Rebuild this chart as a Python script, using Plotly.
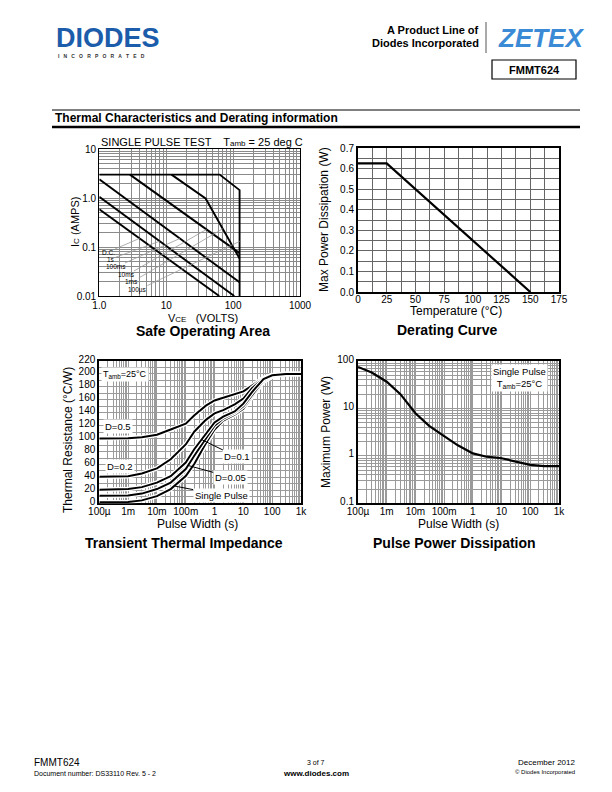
import numpy as np
import plotly.graph_objects as go

FONT = "Liberation Sans, Arial, Helvetica, sans-serif"
W, H = 612, 792

# ---------------- data ----------------
# Safe Operating Area (VCE in volts, IC in amps)
soa_names = ["D.C.", "1s", "100ms", "10ms", "1ms", "100\u00b5s"]
soa_v = [
    [1, 62],
    [1, 104],
    [1, 125],
    [2.87, 125],
    [12, 38.8, 125],
    [1, 63, 125, 125],
]
soa_i = [
    [0.59, 0.01],
    [1.06, 0.01],
    [2.4, 0.019],
    [3.0, 0.075],
    [3.0, 0.98, 0.058],
    [3.0, 3.0, 1.45, 0.01],
]
# leader-line targets on each curve (volts)
soa_leader_v = [4, 8, 16, 40, 70, 125]
soa_leader_i100us = 0.13

# Derating curve
der_temp = [0, 25, 150]
der_pw = [0.625, 0.625, 0.0]

# Transient thermal impedance
tt_t = [1e-4, 1e-3, 3e-3, 1e-2, 3e-2, 0.1, 0.2, 0.5, 1, 2, 5, 10, 20, 50, 100, 300, 1000]
tt_d05 = [100, 100.5, 102, 106, 114, 123, 136, 151, 159, 163, 168, 173, 182, 194, 198, 200, 200]
tt_d02 = [41, 42, 46, 54, 68, 91, 111, 129, 139, 144, 153, 162, 178, 193, 198, 200, 200]
tt_d01 = [21, 22, 25, 32, 42, 63, 84, 108, 125, 134, 142, 154, 172, 192, 198, 200, 200]
tt_d005 = [11.5, 12, 15, 22, 32, 53, 74, 100, 120, 131, 140, 150, 168, 190, 197, 200, 200]
tt_single = [1.5, 2, 4.5, 11, 22, 42, 61, 93, 114, 128, 137, 146, 165, 188, 196, 200, 200]

# Pulse power dissipation
pp_t = [1e-4, 3e-4, 1e-3, 3e-3, 1e-2, 3e-2, 0.1, 0.3, 1, 3, 10, 30, 100, 300, 1000]
pp_w = [75, 57, 36.6, 20, 7.9, 4.3, 2.6, 1.67, 1.13, 0.96, 0.89, 0.76, 0.645, 0.61, 0.61]

log_ticks_t = [1e-4, 1e-3, 1e-2, 1e-1, 1, 10, 100, 1000]
log_text_t = ["100\u00b5", "1m", "10m", "100m", "1", "10", "100", "1k"]


def px(x):
    return x / W


def py(y):
    return 1 - y / H


fig = go.Figure()


def add_curve(x, y, xa, ya, width=2.0, halo=True):
    if halo:
        fig.add_trace(go.Scatter(x=x, y=y, xaxis=xa, yaxis=ya, mode="lines",
                                 line=dict(color="white", width=width + 2.5),
                                 hoverinfo="skip"))
    fig.add_trace(go.Scatter(x=x, y=y, xaxis=xa, yaxis=ya, mode="lines",
                             line=dict(color="black", width=width),
                             hoverinfo="skip"))


# SOA curves
for v, i in zip(soa_v, soa_i):
    add_curve(v, i, "x", "y", width=1.9, halo=False)
# Derating
add_curve(der_temp, der_pw, "x2", "y2", width=2.2, halo=False)
# Transient
for ser in [tt_d05, tt_d02, tt_single, tt_d005, tt_d01]:
    add_curve(tt_t, ser, "x3", "y3", width=2.0, halo=True)
# Pulse power
add_curve(pp_t, pp_w, "x4", "y4", width=2.2, halo=False)


def ax_common(gridcolor, lw=1.5, standoff=0, shift=0):
    return dict(showline=True, linecolor="black", linewidth=lw, mirror=True,
                ticks="", zeroline=False, showgrid=True, gridcolor=gridcolor,
                gridwidth=1, layer="below traces", automargin=False,
                ticklabelstandoff=standoff, ticklabelshift=shift,
                tickfont=dict(family=FONT, size=10, color="black"))


soa_dom_x = [px(99.3), px(300)]
soa_dom_y = [py(296), py(149)]
der_dom_x = [px(358), px(559)]
der_dom_y = [py(292), py(148)]
tt_dom_x = [px(99.3), px(301)]
tt_dom_y = [py(503.3), py(361)]
pp_dom_x = [px(358), px(559)]
pp_dom_y = [py(503.3), py(361)]

fig.update_layout(
    template="none",
    width=W, height=H, autosize=False,
    margin=dict(l=0, r=0, t=0, b=0, pad=0, autoexpand=False),
    paper_bgcolor="white", plot_bgcolor="white",
    showlegend=False,
    font=dict(family=FONT, color="black"),
    xaxis=dict(**ax_common("#8a8a8a", 1.3, 0), type="log", range=[0, 3], domain=soa_dom_x,
               anchor="y", tickmode="array", tickvals=[1, 10, 100, 1000],
               ticktext=["1.0", "10", "100", "1000"],
               minor=dict(dtick="D1", showgrid=True, gridcolor="#8a8a8a", gridwidth=1)),
    yaxis=dict(**ax_common("#8a8a8a", 1.3, 0), type="log", range=[-2, 1], domain=soa_dom_y,
               anchor="x", tickmode="array", tickvals=[0.01, 0.1, 1, 10],
               ticktext=["0.01", "0.1", "1.0", "10"],
               minor=dict(dtick="D1", showgrid=True, gridcolor="#8a8a8a", gridwidth=1)),
    xaxis2=dict(**ax_common("#666666", 2, -3), range=[0, 175], domain=der_dom_x, anchor="y2",
                tickmode="array", tickvals=[0, 25, 50, 75, 100, 125, 150, 175],
                minor=dict(dtick=12.5, showgrid=True, gridcolor="#666666", gridwidth=1)),
    yaxis2=dict(**ax_common("#666666", 2, 0), range=[0, 0.7], domain=der_dom_y, anchor="x2",
                tickmode="linear", tick0=0, dtick=0.1, tickformat=".1f",
                minor=dict(dtick=0.05, showgrid=True, gridcolor="#666666", gridwidth=1)),
    xaxis3=dict(**ax_common("#9a9a9a", 2, -2), type="log", range=[-4, 3], domain=tt_dom_x,
                anchor="y3", tickmode="array", tickvals=log_ticks_t, ticktext=log_text_t,
                minor=dict(dtick="D1", showgrid=True, gridcolor="#9a9a9a", gridwidth=1)),
    yaxis3=dict(**ax_common("#9a9a9a", 2, 0, -2), range=[0, 220], domain=tt_dom_y, anchor="x3",
                tickmode="linear", tick0=0, dtick=20,
                minor=dict(dtick=10, showgrid=True, gridcolor="#9a9a9a", gridwidth=1)),
    xaxis4=dict(**ax_common("#9a9a9a", 2, -2), type="log", range=[-4, 3], domain=pp_dom_x,
                anchor="y4", tickmode="array", tickvals=log_ticks_t, ticktext=log_text_t,
                minor=dict(dtick="D1", showgrid=True, gridcolor="#9a9a9a", gridwidth=1)),
    yaxis4=dict(**ax_common("#9a9a9a", 2, 0, -2), type="log", range=[-1, 2], domain=pp_dom_y,
                anchor="x4", tickmode="array", tickvals=[0.1, 1, 10, 100],
                ticktext=["0.1", "1", "10", "100"],
                minor=dict(dtick="D1", showgrid=True, gridcolor="#9a9a9a", gridwidth=1)),
)

ann = []


def txt(x, y, text, size=10, bold=False, xanchor="center", yanchor="middle",
        color="black", angle=0, bg=None, italic=False, family=FONT):
    t = text
    if bold:
        t = "<b>" + t + "</b>"
    if italic:
        t = "<i>" + t + "</i>"
    d = dict(x=px(x), y=py(y), xref="paper", yref="paper", text=t, showarrow=False,
             xanchor=xanchor, yanchor=yanchor, textangle=angle,
             font=dict(family=family, size=size, color=color))
    if bg:
        d["bgcolor"] = bg
    ann.append(d)


# ---- header ----
txt(54, 38, "DIODES", size=27, bold=True, xanchor="left", color="#1b5cab")
nb = "\u00a0\u00a0\u00a0"
txt(56, 56, nb.join("INCORPORATED"), size=5, bold=True, xanchor="left", color="#333333")
txt(481, 30, "A Product Line of", size=11, bold=True, xanchor="right")
txt(481, 43, "Diodes Incorporated", size=11, bold=True, xanchor="right")
txt(541, 38, "ZETEX", size=26, bold=True, italic=True, color="#3b8ad6",
    xanchor="center")
txt(534, 70, "FMMT624", size=11, bold=True)
txt(53, 118, "Thermal Characteristics and Derating information", size=12, bold=True,
    xanchor="left")

# ---- SOA texts ----
txt(99, 142, "SINGLE PULSE TEST    T<span style='font-size:8px'>amb</span> = 25 deg C",
    size=11, xanchor="left")
txt(203, 318, "V<span style='font-size:8px'>CE</span>   (VOLTS)", size=11)
txt(75, 222, "I<span style='font-size:8px'>C</span> (AMPS)", size=11, angle=-90)
txt(203, 331, "Safe Operating Area", size=14, bold=True)

# ---- Derating texts ----
txt(456, 311, "Temperature (\u00b0C)", size=12)
txt(324, 220, "Max Power Dissipation (W)", size=12, angle=-90)
txt(447, 330, "Derating Curve", size=14, bold=True)

# ---- Transient texts ----
txt(197, 524, "Pulse Width (s)", size=12)
txt(68, 440, "Thermal Resistance (\u00b0C/W)", size=12, angle=-90)
txt(184, 543, "Transient Thermal Impedance", size=14, bold=True)

# ---- Pulse power texts ----
txt(458, 524, "Pulse Width (s)", size=12)
txt(326, 432, "Maximum Power (W)", size=12, angle=-90)
txt(454, 543, "Pulse Power Dissipation", size=14, bold=True)

# ---- footer ----
txt(32, 762, "FMMT624", size=10, xanchor="left")
txt(32, 773, "Document number: DS33110 Rev. 5 - 2", size=7, xanchor="left")
txt(316, 762, "3 of 7", size=7)
txt(316, 773, "www.diodes.com", size=8, bold=True)
txt(577, 762, "December 2012", size=8, xanchor="right")
txt(577, 772, "\u00a9 Diodes Incorporated", size=6, xanchor="right")

# ---- in-chart labels, transient ----
ann.append(dict(x=-3.1, y=199, xref="x3", yref="y3", showarrow=False,
                text="T<sub>amb</sub>=25\u00b0C", bgcolor="white",
                font=dict(family=FONT, size=9, color="black")))
ann.append(dict(x=-3.35, y=118, xref="x3", yref="y3", showarrow=False,
                text="D=0.5", bgcolor="white", font=dict(family=FONT, size=9.5)))
ann.append(dict(x=-3.28, y=57.6, xref="x3", yref="y3", showarrow=False,
                text="D=0.2", bgcolor="white", font=dict(family=FONT, size=9.5)))


def logint(xq, xs, ys, logy=False):
    yy = np.log10(ys) if logy else np.asarray(ys, float)
    r = np.interp(np.log10(xq), np.log10(xs), yy)
    return r


tt_leaders = [("D=0.1", tt_d01, 0.35, 0.786, 71.6),
              ("D=0.05", tt_d005, 0.12, 0.543, 40.6),
              ("Single Pulse", tt_single, 0.04, 0.23, 12.8)]
for lab, ser, tq, lx, ly in tt_leaders:
    ann.append(dict(x=np.log10(tq), y=float(logint(tq, tt_t, ser)), xref="x3", yref="y3",
                    ax=lx, ay=ly, axref="x3", ayref="y3", showarrow=True,
                    arrowhead=0, arrowwidth=1, arrowcolor="black", text=lab,
                    bgcolor="white", font=dict(family=FONT, size=9.5)))

# ---- pulse power label ----
ann.append(dict(x=1.62, y=1.64, xref="x4", yref="y4", showarrow=False,
                text="Single Pulse<br>T<sub>amb</sub>=25\u00b0C", bgcolor="white",
                font=dict(family=FONT, size=9.5)))

# ---- SOA labels with leaders ----
soa_lab_pos = [(0.130, -1.102), (0.175, -1.245), (0.249, -1.408),
               (0.413, -1.571), (0.488, -1.714), (0.578, -1.878)]
for k, (name, v, i) in enumerate(zip(soa_names, soa_v, soa_i)):
    vq = soa_leader_v[k]
    if k == 5:
        iy = np.log10(soa_leader_i100us)
    else:
        iy = float(logint(vq, v, i, logy=True))
    lx, ly = soa_lab_pos[k]
    ann.append(dict(x=np.log10(vq), y=iy, xref="x", yref="y",
                    ax=lx, ay=ly, axref="x", ayref="y", showarrow=True,
                    arrowhead=0, arrowwidth=0.8, arrowcolor="#9a9a9a", text=name,
                    borderpad=0,
                    font=dict(family=FONT, size=6.5, color="black")))

fig.update_layout(annotations=ann)

# ---- decorative header lines ----
shapes = [
    dict(type="line", xref="paper", yref="paper", x0=px(486), x1=px(486), y0=py(22),
         y1=py(53), line=dict(color="#555555", width=1)),
    dict(type="rect", xref="paper", yref="paper", x0=px(492), x1=px(576), y0=py(79),
         y1=py(60), line=dict(color="black", width=1.2)),
    dict(type="line", xref="paper", yref="paper", x0=px(52), x1=px(580), y0=py(110),
         y1=py(110), line=dict(color="black", width=1)),
    dict(type="line", xref="paper", yref="paper", x0=px(52), x1=px(580), y0=py(127),
         y1=py(127), line=dict(color="black", width=2.5)),
]
fig.update_layout(shapes=shapes)

fig.write_html("out.html", config={"displayModeBar": False},
               post_script="document.body.style.margin='0';")
